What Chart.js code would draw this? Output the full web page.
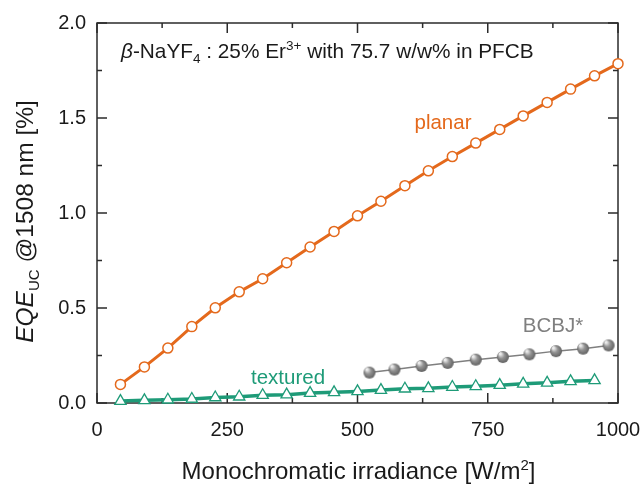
<!DOCTYPE html>
<html>
<head>
<meta charset="utf-8">
<script src="https://cdn.jsdelivr.net/npm/chart.js@4.4.0/dist/chart.umd.min.js"></script>
<style>
    html, body { margin: 0; padding: 0; background: #fff; }
    #wrap { width: 642px; height: 484px; }
</style>
</head>
<body>
<div id="wrap"><canvas id="eqechart"></canvas></div>
<script>
// irradiance steps [W/m2] used for planar and textured runs
var irradiance = [45, 91, 136, 182, 227, 273, 318, 364, 409, 455, 500, 545, 591, 636, 682, 727, 773, 818, 864, 909, 955, 1000];
var planarEqe = [0.098, 0.190, 0.289, 0.402, 0.501, 0.585, 0.654, 0.738, 0.821, 0.903, 0.985, 1.062,
    1.144, 1.222, 1.297, 1.368, 1.440, 1.511, 1.582, 1.652, 1.722, 1.786];
var texturedEqe = [0.010, 0.014, 0.017, 0.021, 0.029, 0.033, 0.041, 0.044, 0.052, 0.056, 0.061,
    0.068, 0.075, 0.077, 0.084, 0.088, 0.094, 0.101, 0.106, 0.114, 0.119];
var bcbjIrradiance = [523, 571, 623, 673, 727, 779, 830, 881, 933, 982];
var bcbjEqe = [0.160, 0.176, 0.195, 0.211, 0.228, 0.242, 0.256, 0.273, 0.286, 0.303];
var xMajor = [0, 250, 500, 750, 1000];
var xMinor = [125, 375, 625, 875];
var yMajor = [0, 0.5, 1.0, 1.5, 2.0];
var yMinor = [0.25, 0.75, 1.25, 1.75];

var FONT = "'Liberation Sans', Arial, sans-serif";
var ORANGE = "#E4691C";
var GREEN = "#1E9B78";
var GREY = "#7F7F7F";

function pairs(xs, ys) {
    return ys.map(function (y, i) { return { x: xs[i], y: y }; });
}

// shaded ball for the BCBJ* series
function makeBall(r) {
    var c = document.createElement("canvas");
    c.width = r * 2 + 2;
    c.height = r * 2 + 2;
    var g = c.getContext("2d");
    var grad = g.createRadialGradient(r * 0.7, r * 0.6, 1, r + 1, r + 1, r);
    grad.addColorStop(0, "#ededed");
    grad.addColorStop(0.45, "#939393");
    grad.addColorStop(1, "#616161");
    g.fillStyle = grad;
    g.beginPath();
    g.arc(r + 1, r + 1, r, 0, Math.PI * 2);
    g.fill();
    return c;
}

// draws a run of text pieces: [text, size, italic, dy]
function drawPieces(ctx, pieces, x, y) {
    var cx = x;
    pieces.forEach(function (p) {
        ctx.font = (p[2] ? "italic " : "") + p[1] + "px " + FONT;
        ctx.fillText(p[0], cx, y + (p[3] || 0));
        cx += ctx.measureText(p[0]).width;
    });
    return cx - x;
}
function piecesWidth(ctx, pieces) {
    var w = 0;
    pieces.forEach(function (p) {
        ctx.font = (p[2] ? "italic " : "") + p[1] + "px " + FONT;
        w += ctx.measureText(p[0]).width;
    });
    return w;
}

const frameTicks = {
    id: "frameTicks",
    beforeDatasetsDraw: function (chart) {
        var ctx = chart.ctx, a = chart.chartArea;
        var xs = chart.scales.x, ys = chart.scales.y;
        ctx.save();
        ctx.strokeStyle = "#2b2b2b";
        ctx.lineWidth = 1.5;
        ctx.strokeRect(a.left, a.top, a.right - a.left, a.bottom - a.top);
        ctx.beginPath();
        function xt(v, len) {
            var px = xs.getPixelForValue(v);
            ctx.moveTo(px, a.bottom); ctx.lineTo(px, a.bottom - len);
            ctx.moveTo(px, a.top); ctx.lineTo(px, a.top + len);
        }
        function yt(v, len) {
            var py = ys.getPixelForValue(v);
            ctx.moveTo(a.left, py); ctx.lineTo(a.left + len, py);
            ctx.moveTo(a.right, py); ctx.lineTo(a.right - len, py);
        }
        xMajor.forEach(function (v) { xt(v, 10); });
        xMinor.forEach(function (v) { xt(v, 5); });
        yMajor.forEach(function (v) { yt(v, 10); });
        yMinor.forEach(function (v) { yt(v, 5); });
        ctx.stroke();
        ctx.restore();
    },
    afterDraw: function (chart) {
        var ctx = chart.ctx, a = chart.chartArea;
        ctx.save();
        ctx.textBaseline = "alphabetic";
        ctx.textAlign = "left";

        // sample note
        ctx.fillStyle = "#1a1a1a";
        drawPieces(ctx, [
            ["\u03B2", 20.8, true], ["-NaYF", 20.8], ["4", 13.5, false, 5], [" : 25% Er", 20.8],
            ["3+", 13.5, false, -8], [" with 75.7 w/w% in PFCB", 20.8]
        ], 121, 58);

        // series labels
        ctx.font = "20.5px " + FONT;
        ctx.textAlign = "center";
        ctx.fillStyle = ORANGE;
        ctx.fillText("planar", 443, 129);
        ctx.fillStyle = GREEN;
        ctx.fillText("textured", 288, 384);
        ctx.fillStyle = GREY;
        ctx.fillText("BCBJ*", 553, 332);

        // x axis title
        ctx.textAlign = "left";
        ctx.fillStyle = "#1a1a1a";
        var xt = [["Monochromatic irradiance [W/m", 24], ["2", 15, false, -9], ["]", 24]];
        var w = piecesWidth(ctx, xt);
        drawPieces(ctx, xt, 358.5 - w / 2, 479);

        // y axis title
        var yt = [["EQE", 24.5, true], ["UC", 15, false, 6], [" @1508 nm [%]", 24.5]];
        var wy = piecesWidth(ctx, yt);
        ctx.translate(33, 221.5);
        ctx.rotate(-Math.PI / 2);
        drawPieces(ctx, yt, -wy / 2, 0);
        ctx.restore();
    }
};

const config = {
    type: "line",
    data: {
        datasets: [
            {
                label: "planar",
                data: pairs(irradiance, planarEqe),
                borderColor: ORANGE,
                borderWidth: 3,
                pointStyle: "circle",
                pointRadius: 5,
                pointBorderWidth: 1.5,
                pointBorderColor: ORANGE,
                pointBackgroundColor: "#fff",
                clip: false,
            },
            {
                label: "BCBJ*",
                data: pairs(bcbjIrradiance, bcbjEqe),
                borderColor: GREY,
                borderWidth: 1.5,
                pointStyle: makeBall(6),
                pointRadius: 6,
                clip: false,
            },
            {
                label: "textured",
                data: pairs(irradiance, texturedEqe),
                borderColor: GREEN,
                borderWidth: 3.5,
                pointStyle: "triangle",
                pointRadius: 6.5,
                pointBorderWidth: 1.3,
                pointBorderColor: GREEN,
                pointBackgroundColor: "#fff",
                clip: false,
            },
        ],
    },
    options: {
        responsive: true,
        maintainAspectRatio: false,
        animation: false,
        events: [],
        layout: { padding: { left: 0, top: 20, right: 24, bottom: 0 } },
        plugins: {
            legend: { display: false },
            tooltip: { enabled: false },
        },
        scales: {
            x: {
                type: "linear",
                min: 0,
                max: 1000,
                grid: { display: false, drawTicks: false },
                border: { display: false },
                ticks: {
                    stepSize: 250,
                    padding: 15,
                    color: "#1a1a1a",
                    font: { family: FONT, size: 20 },
                    maxRotation: 0,
                    callback: function (v) { return String(v); },
                },
                afterFit: function (scale) {
                    scale.height = 81;
                    scale.paddingLeft = 0;
                    scale.paddingRight = 0;
                },
            },
            y: {
                type: "linear",
                min: 0,
                max: 2,
                grid: { display: false, drawTicks: false },
                border: { display: false },
                ticks: {
                    stepSize: 0.5,
                    padding: 11,
                    color: "#1a1a1a",
                    font: { family: FONT, size: 20 },
                    callback: function (v) { return v.toFixed(1); },
                },
                afterFit: function (scale) { scale.width = 97; },
            },
        },
    },
    plugins: [frameTicks],
};

var eqechart = new Chart(document.getElementById("eqechart"), config);
</script>
</body>
</html>
